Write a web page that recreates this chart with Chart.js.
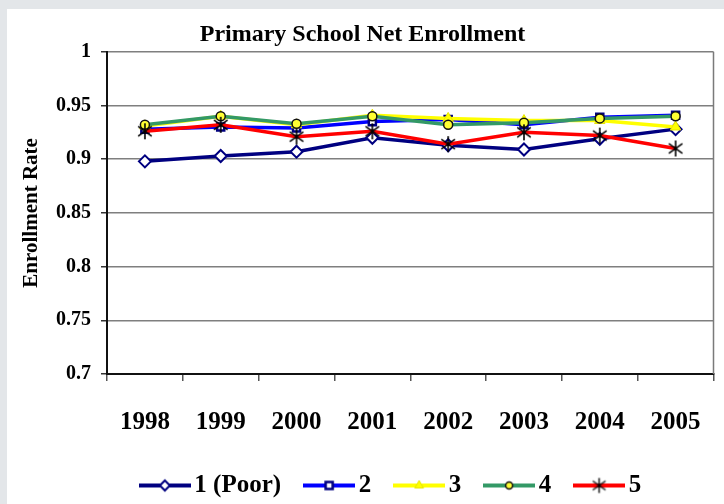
<!DOCTYPE html>
<html>
<head>
<meta charset="utf-8">
<script src="https://cdn.jsdelivr.net/npm/chart.js@4/dist/chart.umd.min.js"></script>
<style>
  html, body { margin: 0; padding: 0; background: #e3e6e9; }
  #wrap { width: 724px; height: 504px; position: relative; }
</style>
</head>
<body>
<div id="wrap"><canvas id="chart" width="724" height="504"></canvas></div>
<script>
// data
const years = ['1998', '1999', '2000', '2001', '2002', '2003', '2004', '2005'];
const seriesNames = ['1 (Poor)', '2', '3', '4', '5'];
const q1 = [0.898, 0.903, 0.907, 0.920, 0.913, 0.909, 0.919, 0.928];
const q2 = [0.928, 0.930, 0.929, 0.935, 0.937, 0.932, 0.939, 0.941];
const q3 = [0.931, 0.940, 0.932, 0.941, 0.938, 0.936, 0.936, 0.930];
const q4 = [0.932, 0.940, 0.933, 0.940, 0.932, 0.934, 0.938, 0.940];
const q5 = [0.926, 0.932, 0.921, 0.926, 0.914, 0.925, 0.922, 0.910];
const yTicks = [0.7, 0.75, 0.8, 0.85, 0.9, 0.95, 1];

const serif = "'Liberation Serif', 'Times New Roman', serif";

// asterisk marker for quintile 5
function asterisk(size, lw) {
    const c = document.createElement('canvas');
    c.width = size; c.height = size;
    const g = c.getContext('2d');
    g.strokeStyle = '#000';
    g.lineWidth = lw;
    const m = size / 2, r = size / 2 - 1;
    g.beginPath();
    g.moveTo(m, m - r); g.lineTo(m, m + r);
    g.moveTo(m - r * 0.85, m - r * 0.6); g.lineTo(m + r * 0.85, m + r * 0.6);
    g.moveTo(m + r * 0.85, m - r * 0.6); g.lineTo(m - r * 0.85, m + r * 0.6);
    g.stroke();
    return c;
}

const styles = [
    { color: '#000080', point: 'rectRot', radius: 6, bg: '#ffffff', border: '#000080', bw: 2 },
    { color: '#0000ff', point: 'rect', radius: 5, bg: '#ffffff', border: '#000080', bw: 2.5 },
    { color: '#ffff00', point: 'triangle', radius: 6, bg: '#ffff00', border: '#e6e600', bw: 1 },
    { color: '#339966', point: 'circle', radius: 4.5, bg: '#ffff33', border: '#111111', bw: 1.5 },
    { color: '#ff0000', point: asterisk(18, 1.6), radius: 9, bg: '#000', border: '#000', bw: 1.5 }
];
const values = [q1, q2, q3, q4, q5];

// legend swatch: line with the marker in the middle
function swatch(i) {
    const s = styles[i];
    const c = document.createElement('canvas');
    c.width = 52; c.height = 18;
    const g = c.getContext('2d');
    g.strokeStyle = s.color;
    g.lineWidth = 4;
    g.beginPath(); g.moveTo(0, 9); g.lineTo(52, 9); g.stroke();
    g.fillStyle = s.bg;
    g.strokeStyle = s.border;
    g.lineWidth = s.bw;
    if (typeof s.point === 'string') {
        Chart.helpers.drawPoint(g, { pointStyle: s.point, radius: s.point === 'circle' ? 3.5 : 5, borderWidth: s.bw, rotation: 0 }, 26, 9);
    } else {
        g.drawImage(asterisk(17, 1.4), 26 - 8.5, 0.5);
    }
    return c;
}

const datasets = values.map((v, i) => ({
    label: seriesNames[i],
    data: v,
    borderColor: styles[i].color,
    borderWidth: 3.5,
    pointStyle: styles[i].point,
    pointRadius: styles[i].radius,
    pointBackgroundColor: styles[i].bg,
    pointBorderColor: styles[i].border,
    pointBorderWidth: styles[i].bw,
    tension: 0,
    order: 5 - i
}));

const panel = {
    id: 'panel',
    afterLayout(chart) {
        // legend in the original sits a bit right of centre
        chart.legend.left += 32;
        chart.legend.right += 32;
    },
    beforeDraw(chart) {
        const c = chart.ctx;
        c.save();
        c.fillStyle = '#e3e6e9';
        c.fillRect(0, 0, chart.width, chart.height);
        c.fillStyle = '#ffffff';
        c.fillRect(7, 9, chart.width - 7, chart.height - 9);
        c.restore();
    },
    afterDatasetsDraw(chart) {
        const a = chart.chartArea, c = chart.ctx;
        c.save();
        c.strokeStyle = '#7a7a7a';
        c.lineWidth = 1.5;
        c.beginPath();
        c.moveTo(a.right, a.top); c.lineTo(a.right, a.bottom);
        c.stroke();
        c.restore();
    }
};

new Chart(document.getElementById('chart'), {
    type: 'line',
    data: { labels: years, datasets: datasets },
    plugins: [panel],
    options: {
        responsive: false,
        animation: false,
        layout: { padding: { left: 7, right: 6, top: 9, bottom: -4 } },
        plugins: {
            title: {
                display: true,
                text: 'Primary School Net Enrollment',
                color: '#000',
                font: { family: serif, size: 24, weight: 'bold' },
                padding: { top: 11, bottom: 3 }
            },
            legend: {
                position: 'bottom',
                labels: {
                    usePointStyle: true,
                    pointStyleWidth: 34,
                    color: '#000',
                    font: { family: serif, size: 25, weight: 'bold' },
                    padding: 31,
                    generateLabels: () => seriesNames.map((n, i) => ({
                        text: n,
                        pointStyle: swatch(i),
                        fillStyle: styles[i].color,
                        strokeStyle: styles[i].color,
                        lineWidth: 0,
                        datasetIndex: i
                    }))
                }
            },
            tooltip: { enabled: false }
        },
        scales: {
            x: {
                offset: true,
                grid: { offset: true, drawOnChartArea: false, tickLength: 7, color: '#555', lineWidth: 1.5 },
                border: { color: '#111', width: 2 },
                ticks: { color: '#000', font: { family: serif, size: 25, weight: 'bold' }, padding: 27, maxRotation: 0 },
                afterFit: s => { s.height = 68; s.paddingLeft = 0; s.paddingRight = 0; }
            },
            y: {
                min: 0.7,
                max: 1,
                afterBuildTicks: s => { s.ticks = yTicks.map(v => ({ value: v })); },
                grid: { color: '#7f7f7f', lineWidth: 1.5, tickLength: 6, tickColor: '#333' },
                border: { color: '#111', width: 2 },
                ticks: { color: '#000', font: { family: serif, size: 20, weight: 'bold' }, padding: 10,
                    callback: v => String(v) },
                title: {
                    display: true,
                    text: 'Enrollment Rate',
                    color: '#000',
                    font: { family: serif, size: 21, weight: 'bold' },
                    padding: { top: 12, bottom: 0 }
                },
                afterFit: s => { s.width = 100; }
            }
        }
    }
});
</script>
</body>
</html>
